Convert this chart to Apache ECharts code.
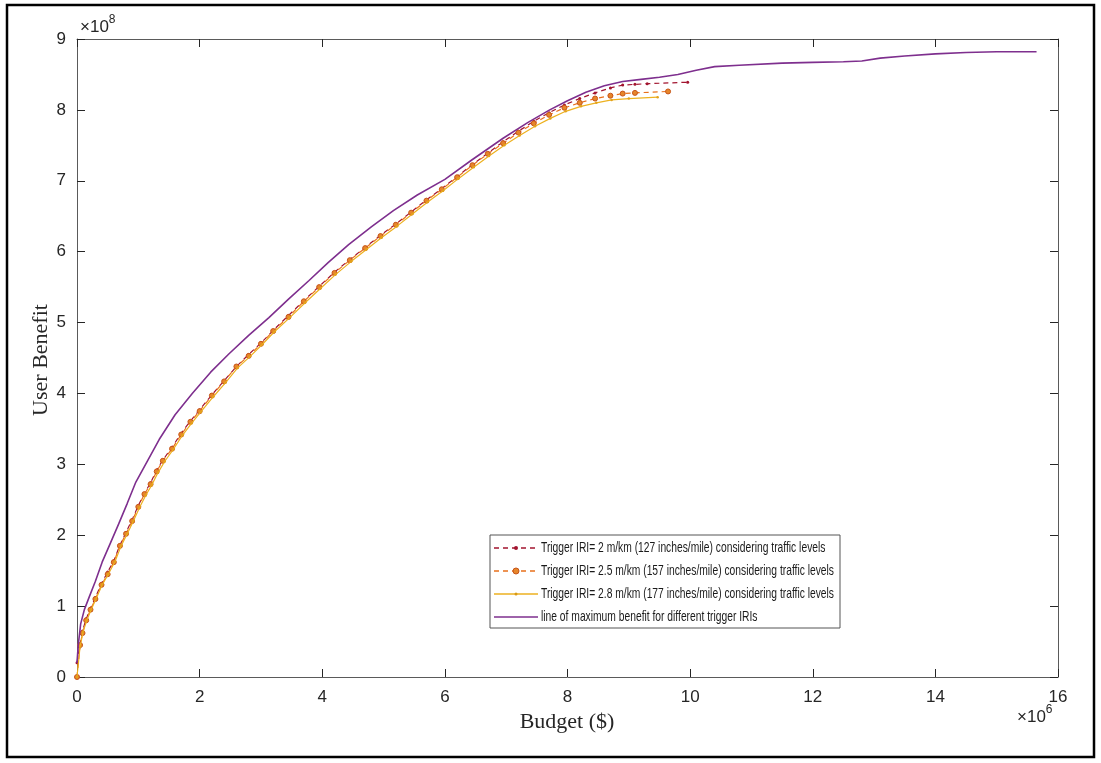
<!DOCTYPE html>
<html>
<head>
<meta charset="utf-8">
<script src="https://cdn.jsdelivr.net/npm/echarts@6/dist/echarts.min.js"></script>
<style>
html,body{margin:0;padding:0;background:#fff;}
#chart{width:1101px;height:763px;}
</style>
</head>
<body>
<div id="chart"></div>
<script>
// Budget in units of 1e6 $, benefit in units of 1e8
const seriesNames = [
  'Trigger IRI= 2 m/km (127 inches/mile) considering traffic levels',
  'Trigger IRI= 2.5 m/km (157 inches/mile) considering traffic levels',
  'Trigger IRI= 2.8 m/km (177 inches/mile) considering traffic levels',
  'line of maximum benefit for different trigger IRIs'
];
const xTicks = [0, 2, 4, 6, 8, 10, 12, 14, 16];
const yTicks = [0, 1, 2, 3, 4, 5, 6, 7, 8, 9];

const budgetIRI20 = [0,0.04,0.09,0.15,0.22,0.3,0.4,0.5,0.6,0.7,0.8,0.9,1.0,1.1,1.2,1.3,1.4,1.55,1.7,1.85,2.0,2.2,2.4,2.6,2.8,3.0,3.2,3.45,3.7,3.95,4.2,4.45,4.7,4.95,5.2,5.45,5.7,5.95,6.2,6.45,6.7,6.95,7.2,7.45,7.7,7.95,8.2,8.45,8.7,8.9,9.1,9.3,9.96];
const benefitIRI20 = [0.2,0.42,0.65,0.82,0.97,1.12,1.32,1.48,1.64,1.86,2.04,2.22,2.42,2.59,2.74,2.92,3.06,3.24,3.44,3.61,3.77,3.98,4.18,4.38,4.55,4.71,4.89,5.1,5.31,5.51,5.71,5.89,6.06,6.23,6.39,6.56,6.73,6.89,7.06,7.23,7.39,7.55,7.7,7.84,7.96,8.07,8.16,8.24,8.31,8.35,8.36,8.37,8.39];

const budgetIRI25 = [0,0.05,0.09,0.15,0.22,0.3,0.4,0.5,0.6,0.7,0.8,0.9,1.0,1.1,1.2,1.3,1.4,1.55,1.7,1.85,2.0,2.2,2.4,2.6,2.8,3.0,3.2,3.45,3.7,3.95,4.2,4.45,4.7,4.95,5.2,5.45,5.7,5.95,6.2,6.45,6.7,6.95,7.2,7.45,7.7,7.95,8.2,8.45,8.7,8.9,9.1,9.64];
const benefitIRI25 = [0,0.45,0.62,0.8,0.95,1.1,1.3,1.45,1.62,1.85,2.02,2.2,2.4,2.58,2.72,2.9,3.05,3.22,3.42,3.6,3.75,3.97,4.17,4.38,4.53,4.7,4.88,5.08,5.3,5.5,5.7,5.88,6.05,6.22,6.38,6.55,6.72,6.88,7.05,7.22,7.38,7.53,7.68,7.81,7.93,8.03,8.1,8.16,8.2,8.23,8.24,8.26];

const budgetIRI28 = [0,0.05,0.1,0.16,0.23,0.31,0.41,0.51,0.62,0.72,0.82,0.92,1.02,1.12,1.22,1.32,1.43,1.57,1.72,1.87,2.02,2.22,2.42,2.62,2.82,3.02,3.22,3.47,3.72,3.97,4.22,4.47,4.72,4.97,5.22,5.47,5.72,5.97,6.22,6.47,6.72,6.97,7.22,7.47,7.72,7.97,8.22,8.47,8.72,9.0,9.47];
const benefitIRI28 = [0,0.43,0.64,0.8,0.95,1.1,1.3,1.45,1.63,1.85,2.02,2.2,2.39,2.56,2.71,2.88,3.04,3.21,3.41,3.58,3.74,3.95,4.15,4.36,4.52,4.69,4.87,5.07,5.28,5.48,5.68,5.86,6.03,6.2,6.36,6.53,6.7,6.86,7.03,7.19,7.35,7.5,7.64,7.77,7.88,7.98,8.05,8.1,8.14,8.16,8.18];

const budgetMax = [0,0.02,0.06,0.12,0.2,0.3,0.41,0.55,0.68,0.82,0.96,1.15,1.34,1.6,1.88,2.18,2.48,2.8,3.13,3.45,3.78,4.1,4.43,4.8,5.16,5.55,6.0,6.45,6.95,7.35,7.71,8.0,8.3,8.6,8.9,9.2,9.5,9.8,10.1,10.4,10.8,11.5,12.0,12.5,12.8,13.1,13.5,14.0,14.5,15.0,15.65];
const benefitMax = [0.2,0.45,0.75,0.95,1.13,1.35,1.62,1.9,2.16,2.45,2.75,3.05,3.35,3.7,4.0,4.3,4.56,4.82,5.07,5.33,5.59,5.85,6.1,6.35,6.58,6.8,7.02,7.3,7.6,7.82,8.0,8.13,8.25,8.34,8.4,8.43,8.46,8.5,8.56,8.61,8.63,8.66,8.67,8.68,8.69,8.73,8.76,8.79,8.81,8.82,8.82];

function pairs(xs, ys) { return xs.map((x, i) => [x, ys[i]]); }

const chart = echarts.init(document.getElementById('chart'), null, {renderer: 'canvas'});
const axisColor = '#5a5a5a';
const sans = 'Liberation Sans, Arial, sans-serif';
const serif = 'Liberation Serif, Times New Roman, serif';
const labelFont = {fontFamily: sans, fontSize: 17, color: '#262626'};

function axis(extra) {
  return Object.assign({
    type: 'value',
    axisLine: {show: true, onZero: false, lineStyle: {color: axisColor, width: 1}},
    axisTick: {show: true, inside: true, length: 8, lineStyle: {color: '#262626', width: 1}},
    splitLine: {show: false}
  }, extra);
}

// legend drawn as graphic so the text width matches the original (compressed) legend
const legendColors = ['#A2142F', '#E8701C', '#EDB120', '#7E2F8E'];
const legendDash = [[5, 4], [5, 4], null, null];
const legendRowY = [548, 571, 594, 617];
const legendFontSize = 15;
const targetTextWidth = 293;
const ctx = document.createElement('canvas').getContext('2d');
ctx.font = legendFontSize + 'px ' + sans;
const measured = Math.max.apply(null, seriesNames.map(s => ctx.measureText(s).width));
const legendScaleX = Math.min(1, targetTextWidth / measured);

const legendGraphics = [
  {type: 'rect', shape: {x: 490, y: 535, width: 350, height: 93}, style: {fill: '#fff', stroke: '#555', lineWidth: 1}, z: 100, silent: true}
];
legendRowY.forEach((y, i) => {
  legendGraphics.push({type: 'line', shape: {x1: 494, y1: y, x2: 538, y2: y}, style: {stroke: legendColors[i], lineWidth: 1.3, lineDash: legendDash[i]}, z: 101, silent: true});
  if (i === 0) legendGraphics.push({type: 'circle', shape: {cx: 516, cy: y, r: 2}, style: {fill: '#A2142F'}, z: 102, silent: true});
  if (i === 1) legendGraphics.push({type: 'circle', shape: {cx: 516, cy: y, r: 3}, style: {fill: '#E6862A', stroke: '#C7551A', lineWidth: 1}, z: 102, silent: true});
  if (i === 2) legendGraphics.push({type: 'circle', shape: {cx: 516, cy: y, r: 1.5}, style: {fill: '#D99A14'}, z: 102, silent: true});
  legendGraphics.push({type: 'group', x: 541, y: y, scaleX: legendScaleX, z: 101, children: [
    {type: 'text', x: 0, y: 0, z: 101, style: {text: seriesNames[i], fontFamily: sans, fontSize: legendFontSize, fill: '#1a1a1a', align: 'left', verticalAlign: 'middle'}}
  ]});
});

chart.setOption({
  animation: false,
  backgroundColor: '#fff',
  grid: {left: 77, right: 43, top: 39, bottom: 86, containLabel: false},
  xAxis: [
    axis({min: xTicks[0], max: xTicks[xTicks.length - 1], interval: 2, position: 'bottom',
      axisLabel: Object.assign({margin: 12}, labelFont)}),
    axis({min: xTicks[0], max: xTicks[xTicks.length - 1], interval: 2, position: 'top',
      axisLabel: {show: false}})
  ],
  yAxis: [
    axis({min: yTicks[0], max: yTicks[yTicks.length - 1], interval: 1, position: 'left',
      axisLabel: Object.assign({margin: 11}, labelFont)}),
    axis({min: yTicks[0], max: yTicks[yTicks.length - 1], interval: 1, position: 'right',
      axisLabel: {show: false}})
  ],
  series: [
    {
      name: seriesNames[0], type: 'line', data: pairs(budgetIRI20, benefitIRI20),
      symbol: 'circle', symbolSize: 3, showSymbol: true,
      lineStyle: {color: '#A2142F', width: 1.2, type: [5, 4]},
      itemStyle: {color: '#A2142F'}, z: 3
    },
    {
      name: seriesNames[1], type: 'line', data: pairs(budgetIRI25, benefitIRI25),
      symbol: 'circle', symbolSize: 5, showSymbol: true,
      lineStyle: {color: '#E8701C', width: 1.2, type: [5, 4]},
      itemStyle: {color: '#E6862A', borderColor: '#C7551A', borderWidth: 1}, z: 4
    },
    {
      name: seriesNames[2], type: 'line', data: pairs(budgetIRI28, benefitIRI28),
      symbol: 'circle', symbolSize: 2.5, showSymbol: true,
      lineStyle: {color: '#EDB120', width: 1.2},
      itemStyle: {color: '#E3A21A'}, z: 5
    },
    {
      name: seriesNames[3], type: 'line', data: pairs(budgetMax, benefitMax),
      symbol: 'none', showSymbol: false,
      lineStyle: {color: '#7E2F8E', width: 1.6},
      itemStyle: {color: '#7E2F8E'}, z: 6
    }
  ],
  graphic: [
    {type: 'rect', shape: {x: 7, y: 5, width: 1087, height: 752}, style: {fill: 'none', stroke: '#000', lineWidth: 2.5}, silent: true},
    {type: 'text', left: 80, top: 14, style: {
      text: '{a|×10}{s|8}', rich: {
        a: {fontFamily: sans, fontSize: 17, fill: '#262626', verticalAlign: 'bottom'},
        s: {fontFamily: sans, fontSize: 12, fill: '#262626', verticalAlign: 'top', padding: [0, 0, 10, 0]}
      }}},
    {type: 'text', left: 1017, top: 704, style: {
      text: '{a|×10}{s|6}', rich: {
        a: {fontFamily: sans, fontSize: 17, fill: '#262626', verticalAlign: 'bottom'},
        s: {fontFamily: sans, fontSize: 12, fill: '#262626', verticalAlign: 'top', padding: [0, 0, 10, 0]}
      }}},
    {type: 'text', x: 567, y: 722, style: {
      text: 'Budget ($)', fontFamily: serif, fontSize: 22, fill: '#262626',
      align: 'center', verticalAlign: 'middle'}},
    {type: 'text', x: 41, y: 360, rotation: Math.PI / 2, style: {
      text: 'User Benefit', fontFamily: serif, fontSize: 22, fill: '#262626',
      align: 'center', verticalAlign: 'middle'}}
  ].concat(legendGraphics)
});
</script>
</body>
</html>
